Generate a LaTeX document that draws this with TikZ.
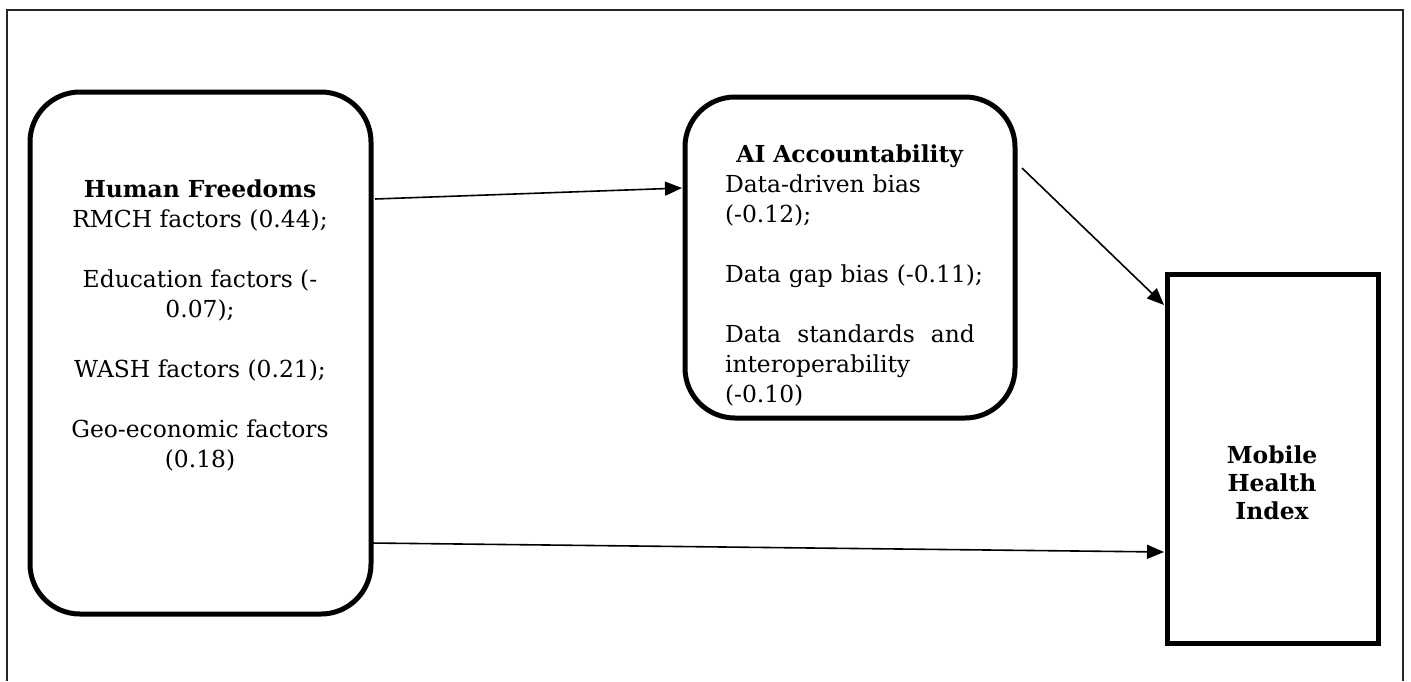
\documentclass[tikz,border=0pt]{standalone}
\usepackage{fontspec}
\setmainfont{DejaVu Serif}
\usetikzlibrary{arrows.meta,calc}
\tikzset{
  box/.style={draw=black, line width=2.5pt, inner sep=0pt, outer sep=0pt},
  rbox/.style={box, rounded corners=25pt},
  txt/.style={inner sep=0pt, outer sep=0pt, font=\fontsize{11.7}{15}\selectfont},
  arr/.style={draw=black, line width=0.8pt, -{Triangle[length=8.5pt,width=7pt]}},
  frame/.style={draw=black!85, line width=1pt}
}
\begin{document}
\begin{tikzpicture}[x=0.5pt,y=-0.5pt]
\useasboundingbox (0,0) rectangle (1411,681);
% outer frame (open at the bottom)
\draw[frame] (7,681) -- (7,10) -- (1403,10) -- (1403,681);
% boxes
\node[rbox, minimum width=170.5pt, minimum height=261pt] (hf) at (200.5,353) {};
\node[rbox, minimum width=165pt, minimum height=160.5pt] (ai) at (850,257.5) {};
\node[box, minimum width=105.5pt, minimum height=184.5pt] (mh) at (1272.5,458.5) {};
% texts
\node[txt, anchor=north, align=center] (hft) at (200,180) {\textbf{Human Freedoms}\\
RMCH factors (0.44);\\[15pt]
Education factors (-\\
0.07);\\[15pt]
WASH factors (0.21);\\[15pt]
Geo-economic factors\\
(0.18)};
\node[txt, anchor=north west, text width=140pt, align=left] (ait) at (725,145) {\makebox[125pt]{\textbf{AI Accountability}}\\
\mbox{Data-driven bias}\\
\mbox{(-0.12);}\\[15pt]
\mbox{Data gap bias (-0.11);}\\[15pt]
\makebox[125pt][l]{Data\hfill standards\hfill and}\\
\mbox{interoperability}\\
\mbox{(-0.10)}};
\node[txt, anchor=north, align=center, font=\fontsize{11.7}{14}\selectfont\bfseries] (mht) at (1272,446) {Mobile\\Health\\Index};
% connectors
\draw[arr] ($(hf.east)+(4,-154)$) -- ($(ai.west)+(-3,-69.5)$);
\draw[arr] ($(ai.east)+(7,-89.5)$) -- ($(mh.west)+(-3,-153.5)$);
\draw[arr] ($(hf.east)+(0,190)$) -- ($(mh.west)+(-3,93.5)$);
\end{tikzpicture}
\end{document}
